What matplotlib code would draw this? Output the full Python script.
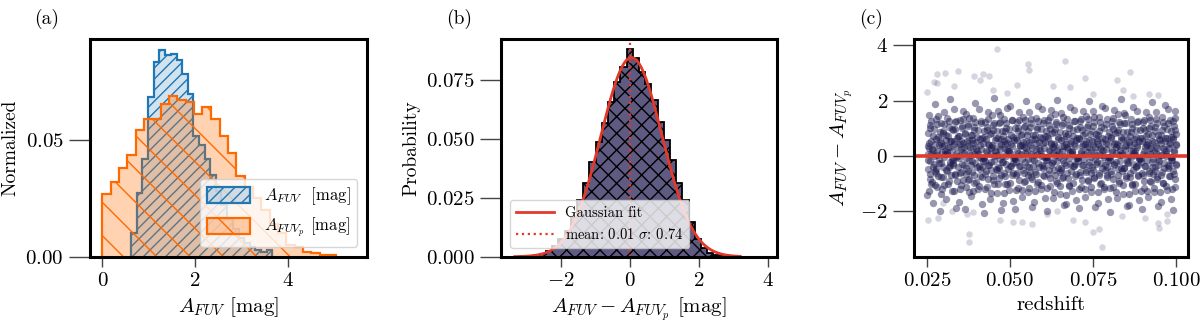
import numpy as np
import matplotlib
matplotlib.use("Agg")
import matplotlib.pyplot as plt

# Computer Modern look
plt.rcParams["font.family"] = "serif"
plt.rcParams["font.serif"] = ["cmr10"]
plt.rcParams["mathtext.fontset"] = "cm"
plt.rcParams["axes.formatter.use_mathtext"] = True
plt.rcParams["axes.unicode_minus"] = True

# ---- panel (a): normalized histograms of A_FUV and A_FUVp ----
afuv_edges = [0.62, 0.74, 0.86, 0.99, 1.11, 1.23, 1.35, 1.47, 1.60, 1.72, 1.84, 1.96, 2.08,
              2.21, 2.33, 2.45, 2.57, 2.69, 2.82, 2.94, 3.06, 3.18, 3.30, 3.43, 3.55, 3.67]
afuv_frac = [0.0100, 0.0275, 0.0420, 0.0686, 0.0834, 0.0889, 0.0866, 0.0872, 0.0845, 0.0785,
             0.0700, 0.052, 0.048, 0.042, 0.035, 0.028, 0.022, 0.016, 0.012, 0.008,
             0.006, 0.004, 0.003, 0.002, 0.003]

afuvp_edges = [0.00, 0.18, 0.36, 0.54, 0.72, 0.90, 1.08, 1.26, 1.44, 1.62, 1.80, 1.98, 2.16, 2.35,
               2.53, 2.71, 2.89, 3.07, 3.25, 3.43, 3.61, 3.79, 3.97, 4.15, 4.33, 4.51, 4.69, 4.87, 5.05]
afuvp_frac = [0.0269, 0.0319, 0.0380, 0.0436, 0.0546, 0.0593, 0.0593, 0.0657, 0.0689, 0.0671,
              0.0662, 0.0614, 0.0643, 0.0593, 0.0517, 0.0445, 0.0345, 0.0300, 0.0250, 0.0200,
              0.0140, 0.0100, 0.0050, 0.0040, 0.0022, 0.0016, 0.0008, 0.0007]

# ---- panel (b): residual histogram + gaussian ----
resid_edges = [-3.34, -3.16, -2.98, -2.80, -2.62, -2.44, -2.26, -2.08, -1.90, -1.72, -1.54, -1.36,
               -1.18, -1.00, -0.82, -0.64, -0.46, -0.28, -0.10, 0.08, 0.26, 0.44, 0.62, 0.80,
               0.98, 1.16, 1.34, 1.52, 1.70, 1.88, 2.06, 2.24, 2.42, 2.60, 2.78, 2.96, 3.14]
resid_prob = [0.0001, 0.0002, 0.0003, 0.0006, 0.0012, 0.0025, 0.0045, 0.0075, 0.0110, 0.0170,
              0.0240, 0.0310, 0.0400, 0.0486, 0.0564, 0.0656, 0.0740, 0.0804, 0.0877,
              0.0839, 0.0783, 0.0733, 0.0663, 0.0571, 0.0494, 0.0409, 0.0310, 0.0240, 0.0145,
              0.0073, 0.0038, 0.0016, 0.0009, 0.0006, 0.0004, 0.0002]
fit_amp = 0.0843
fit_center = 0.04
fit_width = 0.89
fit_range = (-3.35, 3.2)
fit_mean = 0.01
fit_sigma = 0.74

# ---- panel (c): residual vs redshift ----
cloud_pts = [
    (0.0252,-1.41),(0.0259,-0.83),(0.0255,-0.47),(0.0261,-0.18),(0.0253,0.07),(0.0258,0.29),(0.0262,0.55),(0.0254,0.81),(0.0260,1.12),(0.0257,1.46),(0.0263,-1.02),
    (0.0270,-1.73),(0.0278,-0.64),(0.0273,-0.29),(0.0281,0.02),(0.0268,0.21),(0.0276,0.44),(0.0283,0.69),(0.0271,0.98),(0.0279,1.33),(0.0274,1.86),(0.0282,-1.12),
    (0.0289,-2.02),(0.0297,-1.21),(0.0292,-0.76),(0.0300,-0.41),(0.0287,-0.11),(0.0295,0.14),(0.0302,0.38),(0.0290,0.61),(0.0298,0.88),(0.0293,1.19),(0.0301,1.57),
    (0.0308,-1.55),(0.0316,-0.92),(0.0311,-0.55),(0.0319,-0.24),(0.0306,0.05),(0.0314,0.31),(0.0321,0.52),(0.0309,0.77),(0.0317,1.04),(0.0312,1.38),(0.0320,2.07),
    (0.0327,-1.28),(0.0335,-0.69),(0.0330,-0.35),(0.0338,-0.06),(0.0325,0.18),(0.0333,0.42),(0.0340,0.63),(0.0328,0.92),(0.0336,1.24),(0.0331,1.71),(0.0339,-1.88),
    (0.0346,-1.66),(0.0354,-1.07),(0.0349,-0.61),(0.0357,-0.31),(0.0344,-0.02),(0.0352,0.24),(0.0359,0.47),(0.0347,0.71),(0.0355,0.99),(0.0350,1.29),(0.0358,1.63),
    (0.0365,-1.94),(0.0373,-0.87),(0.0368,-0.44),(0.0376,-0.15),(0.0363,0.11),(0.0371,0.35),(0.0378,0.58),(0.0366,0.84),(0.0374,1.16),(0.0369,1.52),(0.0377,-1.31),
    (0.0384,-1.47),(0.0392,-0.98),(0.0387,-0.58),(0.0395,-0.27),(0.0382,0.03),(0.0390,0.27),(0.0397,0.49),(0.0385,0.74),(0.0393,1.03),(0.0388,1.36),(0.0396,1.92),
    (0.0403,-1.19),(0.0411,-0.73),(0.0406,-0.38),(0.0414,-0.09),(0.0401,0.16),(0.0409,0.39),(0.0416,0.66),(0.0404,0.95),(0.0412,1.27),(0.0407,1.68),(0.0415,-1.76),
    (0.0422,-2.08),(0.0430,-1.14),(0.0425,-0.67),(0.0433,-0.34),(0.0420,-0.05),(0.0428,0.19),(0.0435,0.43),(0.0423,0.67),(0.0431,0.93),(0.0426,1.22),(0.0434,1.59),
    (0.0441,-1.58),(0.0449,-0.89),(0.0444,-0.51),(0.0452,-0.20),(0.0439,0.08),(0.0447,0.33),(0.0454,0.57),(0.0442,0.83),(0.0450,1.13),(0.0445,1.49),(0.0453,2.11),
    (0.0460,-1.35),(0.0468,-0.79),(0.0463,-0.42),(0.0471,-0.13),(0.0458,0.13),(0.0466,0.37),(0.0473,0.61),(0.0461,0.89),(0.0469,1.21),(0.0464,1.62),(0.0472,-1.97),
    (0.0479,-1.71),(0.0487,-1.03),(0.0482,-0.63),(0.0490,-0.29),(0.0477,0.00),(0.0485,0.25),(0.0492,0.48),(0.0480,0.72),(0.0488,1.01),(0.0483,1.33),(0.0491,1.74),
    (0.0498,-1.24),(0.0506,-0.71),(0.0501,-0.36),(0.0509,-0.07),(0.0496,0.19),(0.0504,0.44),(0.0511,0.68),(0.0499,0.96),(0.0507,1.29),(0.0502,1.81),(0.0510,-1.63),
    (0.0517,-1.92),(0.0525,-1.17),(0.0520,-0.70),(0.0528,-0.37),(0.0515,-0.08),(0.0523,0.16),(0.0530,0.40),(0.0518,0.64),(0.0526,0.91),(0.0521,1.24),(0.0529,1.58),
    (0.0536,-1.50),(0.0544,-0.94),(0.0539,-0.53),(0.0547,-0.22),(0.0534,0.06),(0.0542,0.30),(0.0549,0.54),(0.0537,0.79),(0.0545,1.07),(0.0540,1.41),(0.0548,1.97),
    (0.0555,-1.30),(0.0563,-0.76),(0.0558,-0.40),(0.0566,-0.11),(0.0553,0.14),(0.0561,0.38),(0.0568,0.62),(0.0556,0.90),(0.0564,1.20),(0.0559,1.60),(0.0567,-1.84),
    (0.0574,-1.68),(0.0582,-1.01),(0.0577,-0.60),(0.0585,-0.28),(0.0572,0.01),(0.0580,0.26),(0.0587,0.50),(0.0575,0.75),(0.0583,1.05),(0.0578,1.37),(0.0586,1.79),
    (0.0593,-1.22),(0.0601,-0.68),(0.0596,-0.33),(0.0604,-0.04),(0.0591,0.20),(0.0599,0.45),(0.0606,0.70),(0.0594,0.98),(0.0602,1.31),(0.0597,1.70),(0.0605,-1.53),
    (0.0612,-2.00),(0.0620,-1.10),(0.0615,-0.65),(0.0623,-0.32),(0.0610,-0.03),(0.0618,0.22),(0.0625,0.46),(0.0613,0.70),(0.0621,0.97),(0.0616,1.28),(0.0624,1.66),
    (0.0631,-1.52),(0.0639,-0.90),(0.0634,-0.50),(0.0642,-0.19),(0.0629,0.09),(0.0637,0.34),(0.0644,0.59),(0.0632,0.86),(0.0640,1.15),(0.0635,1.51),(0.0643,2.03),
    (0.0650,-1.37),(0.0658,-0.81),(0.0653,-0.43),(0.0661,-0.14),(0.0648,0.12),(0.0656,0.36),(0.0663,0.60),(0.0651,0.87),(0.0659,1.18),(0.0654,1.56),(0.0662,-1.79),
    (0.0669,-1.75),(0.0677,-1.05),(0.0672,-0.62),(0.0680,-0.30),(0.0667,-0.01),(0.0675,0.23),(0.0682,0.47),(0.0670,0.73),(0.0678,1.02),(0.0673,1.35),(0.0681,1.77),
    (0.0688,-1.26),(0.0696,-0.74),(0.0691,-0.37),(0.0699,-0.08),(0.0686,0.17),(0.0694,0.41),(0.0701,0.65),(0.0689,0.93),(0.0697,1.26),(0.0692,1.65),(0.0700,-1.60),
    (0.0707,-1.90),(0.0715,-1.15),(0.0710,-0.68),(0.0718,-0.35),(0.0705,-0.06),(0.0713,0.18),(0.0720,0.42),(0.0708,0.66),(0.0716,0.94),(0.0711,1.25),(0.0719,1.61),
    (0.0726,-1.48),(0.0734,-0.93),(0.0729,-0.52),(0.0737,-0.21),(0.0724,0.07),(0.0732,0.32),(0.0739,0.56),(0.0727,0.81),(0.0735,1.10),(0.0730,1.44),(0.0738,1.99),
    (0.0745,-1.33),(0.0753,-0.78),(0.0748,-0.41),(0.0756,-0.12),(0.0743,0.15),(0.0751,0.39),(0.0758,0.63),(0.0746,0.91),(0.0754,1.22),(0.0749,1.63),(0.0757,-1.86),
    (0.0764,-1.70),(0.0772,-1.02),(0.0767,-0.61),(0.0775,-0.27),(0.0762,0.02),(0.0770,0.27),(0.0777,0.51),(0.0765,0.76),(0.0773,1.06),(0.0768,1.39),(0.0776,1.82),
    (0.0783,-1.21),(0.0791,-0.70),(0.0786,-0.34),(0.0794,-0.05),(0.0781,0.21),(0.0789,0.46),(0.0796,0.71),(0.0784,0.99),(0.0792,1.32),(0.0787,1.72),(0.0795,-1.56),
    (0.0802,-2.04),(0.0810,-1.12),(0.0805,-0.66),(0.0813,-0.33),(0.0800,-0.04),(0.0808,0.21),(0.0815,0.45),(0.0803,0.69),(0.0811,0.96),(0.0806,1.27),(0.0814,1.67),
    (0.0821,-1.54),(0.0829,-0.91),(0.0824,-0.49),(0.0832,-0.18),(0.0819,0.10),(0.0827,0.35),(0.0834,0.58),(0.0822,0.85),(0.0830,1.14),(0.0825,1.50),(0.0833,2.06),
    (0.0840,-1.38),(0.0848,-0.82),(0.0843,-0.44),(0.0851,-0.15),(0.0838,0.11),(0.0846,0.35),(0.0853,0.59),(0.0841,0.86),(0.0849,1.17),(0.0844,1.55),(0.0852,-1.81),
    (0.0859,-1.77),(0.0867,-1.06),(0.0862,-0.63),(0.0870,-0.31),(0.0857,-0.02),(0.0865,0.22),(0.0872,0.46),(0.0860,0.72),(0.0868,1.00),(0.0863,1.34),(0.0871,1.76),
    (0.0878,-1.27),(0.0886,-0.75),(0.0881,-0.38),(0.0889,-0.09),(0.0876,0.16),(0.0884,0.40),(0.0891,0.64),(0.0879,0.92),(0.0887,1.25),(0.0882,1.64),(0.0890,-1.62),
    (0.0897,-1.93),(0.0905,-1.16),(0.0900,-0.69),(0.0908,-0.36),(0.0895,-0.07),(0.0903,0.17),(0.0910,0.41),(0.0898,0.65),(0.0906,0.93),(0.0901,1.23),(0.0909,1.59),
    (0.0916,-1.49),(0.0924,-0.95),(0.0919,-0.54),(0.0927,-0.23),(0.0914,0.05),(0.0922,0.29),(0.0929,0.53),(0.0917,0.78),(0.0925,1.08),(0.0920,1.42),(0.0928,1.95),
    (0.0935,-1.32),(0.0943,-0.77),(0.0938,-0.39),(0.0946,-0.10),(0.0933,0.13),(0.0941,0.37),(0.0948,0.61),(0.0936,0.88),(0.0944,1.19),(0.0939,1.58),(0.0947,-1.83),
    (0.0954,-1.69),(0.0962,-1.00),(0.0957,-0.59),(0.0965,-0.26),(0.0952,0.03),(0.0960,0.28),(0.0967,0.52),(0.0955,0.77),(0.0963,1.07),(0.0958,1.40),(0.0966,1.84),
    (0.0973,-1.23),(0.0981,-0.72),(0.0976,-0.35),(0.0984,-0.06),(0.0971,0.19),(0.0979,0.43),(0.0986,0.68),(0.0974,0.97),(0.0982,1.30),(0.0977,1.69),(0.0985,-1.58),
    (0.0990,-1.95),(0.0997,-1.13),(0.0993,-0.66),(0.0999,-0.32),(0.0988,-0.03),(0.0995,0.20),(0.1000,0.44),(0.0991,0.68),(0.0998,0.95),(0.0992,1.26),(0.0996,1.64),
]
core_pts = [
    (0.0256,-1.28),(0.0265,-0.95),(0.0260,-0.66),(0.0269,-0.41),(0.0254,-0.17),(0.0263,0.06),(0.0267,0.25),(0.0258,0.47),(0.0270,0.72),(0.0261,0.99),(0.0264,1.27),(0.0255,0.36),
    (0.0275,-1.07),(0.0284,-0.75),(0.0279,-0.47),(0.0288,-0.25),(0.0273,0.00),(0.0282,0.19),(0.0286,0.38),(0.0277,0.60),(0.0289,0.85),(0.0280,1.15),(0.0283,1.45),(0.0274,-0.57),
    (0.0294,-1.39),(0.0303,-1.06),(0.0298,-0.78),(0.0307,-0.52),(0.0292,-0.28),(0.0301,-0.05),(0.0305,0.16),(0.0296,0.36),(0.0308,0.57),(0.0299,0.84),(0.0302,1.14),(0.0293,0.48),
    (0.0313,-1.02),(0.0322,-0.68),(0.0317,-0.40),(0.0326,-0.10),(0.0311,0.13),(0.0320,0.33),(0.0324,0.54),(0.0315,0.70),(0.0327,0.96),(0.0318,1.25),(0.0321,-0.32),(0.0312,0.05),
    (0.0331,-1.28),(0.0340,-0.93),(0.0335,-0.65),(0.0344,-0.40),(0.0329,-0.15),(0.0338,0.05),(0.0342,0.31),(0.0333,0.53),(0.0345,0.71),(0.0336,0.98),(0.0339,1.27),(0.0330,-0.26),
    (0.0350,-1.20),(0.0359,-0.87),(0.0354,-0.58),(0.0363,-0.33),(0.0348,-0.09),(0.0357,0.14),(0.0361,0.33),(0.0352,0.55),(0.0364,0.80),(0.0355,1.07),(0.0358,1.35),(0.0349,0.44),
    (0.0369,-1.15),(0.0378,-0.83),(0.0373,-0.55),(0.0382,-0.33),(0.0367,-0.08),(0.0376,0.11),(0.0380,0.30),(0.0371,0.52),(0.0383,0.77),(0.0374,1.07),(0.0377,1.37),(0.0368,-0.65),
    (0.0388,-1.29),(0.0397,-0.96),(0.0392,-0.68),(0.0401,-0.42),(0.0386,-0.18),(0.0395,0.05),(0.0399,0.26),(0.0390,0.46),(0.0402,0.67),(0.0393,0.94),(0.0396,1.24),(0.0387,0.58),
    (0.0407,-1.10),(0.0416,-0.76),(0.0411,-0.48),(0.0420,-0.18),(0.0405,0.05),(0.0414,0.25),(0.0418,0.46),(0.0409,0.62),(0.0421,0.88),(0.0412,1.17),(0.0415,-0.40),(0.0406,-0.03),
    (0.0425,-1.20),(0.0434,-0.85),(0.0429,-0.57),(0.0438,-0.32),(0.0423,-0.07),(0.0432,0.13),(0.0436,0.39),(0.0427,0.61),(0.0439,0.79),(0.0430,1.06),(0.0433,1.35),(0.0424,-0.18),
    (0.0444,-1.35),(0.0453,-1.02),(0.0448,-0.73),(0.0457,-0.48),(0.0442,-0.24),(0.0451,-0.01),(0.0455,0.18),(0.0446,0.40),(0.0458,0.65),(0.0449,0.92),(0.0452,1.20),(0.0443,0.29),
    (0.0463,-1.03),(0.0472,-0.71),(0.0467,-0.43),(0.0476,-0.21),(0.0461,0.04),(0.0470,0.23),(0.0474,0.42),(0.0465,0.64),(0.0477,0.89),(0.0468,1.19),(0.0471,1.49),(0.0462,-0.53),
    (0.0482,-1.34),(0.0491,-1.01),(0.0486,-0.73),(0.0495,-0.47),(0.0480,-0.23),(0.0489,0.00),(0.0493,0.21),(0.0484,0.41),(0.0496,0.62),(0.0487,0.89),(0.0490,1.19),(0.0481,0.53),
    (0.0501,-0.98),(0.0510,-0.64),(0.0505,-0.36),(0.0514,-0.06),(0.0499,0.17),(0.0508,0.37),(0.0512,0.58),(0.0503,0.74),(0.0515,1.00),(0.0506,1.29),(0.0509,-0.28),(0.0500,0.09),
    (0.0519,-1.24),(0.0528,-0.89),(0.0523,-0.61),(0.0532,-0.36),(0.0517,-0.11),(0.0526,0.09),(0.0530,0.35),(0.0521,0.57),(0.0533,0.75),(0.0524,1.02),(0.0527,1.31),(0.0518,-0.22),
    (0.0538,-1.24),(0.0547,-0.91),(0.0542,-0.62),(0.0551,-0.37),(0.0536,-0.13),(0.0545,0.10),(0.0549,0.29),(0.0540,0.51),(0.0552,0.76),(0.0543,1.03),(0.0546,1.31),(0.0537,0.40),
    (0.0557,-1.18),(0.0566,-0.86),(0.0561,-0.58),(0.0570,-0.36),(0.0555,-0.11),(0.0564,0.08),(0.0568,0.27),(0.0559,0.49),(0.0571,0.74),(0.0562,1.04),(0.0565,1.34),(0.0556,-0.68),
    (0.0576,-1.27),(0.0585,-0.94),(0.0580,-0.66),(0.0589,-0.40),(0.0574,-0.16),(0.0583,0.07),(0.0587,0.28),(0.0578,0.48),(0.0590,0.69),(0.0581,0.96),(0.0584,1.26),(0.0575,0.60),
    (0.0595,-1.07),(0.0604,-0.73),(0.0599,-0.45),(0.0608,-0.15),(0.0593,0.08),(0.0602,0.28),(0.0606,0.49),(0.0597,0.65),(0.0609,0.91),(0.0600,1.20),(0.0603,-0.37),(0.0594,0.00),
    (0.0613,-1.16),(0.0622,-0.81),(0.0617,-0.53),(0.0626,-0.28),(0.0611,-0.03),(0.0620,0.17),(0.0624,0.43),(0.0615,0.65),(0.0627,0.83),(0.0618,1.10),(0.0621,1.39),(0.0612,-0.14),
    (0.0632,-1.31),(0.0641,-0.98),(0.0636,-0.69),(0.0645,-0.44),(0.0630,-0.20),(0.0639,0.03),(0.0643,0.22),(0.0634,0.44),(0.0646,0.69),(0.0637,0.96),(0.0640,1.24),(0.0631,0.33),
    (0.0651,-1.10),(0.0660,-0.78),(0.0655,-0.50),(0.0664,-0.28),(0.0649,-0.03),(0.0658,0.16),(0.0662,0.35),(0.0653,0.57),(0.0665,0.82),(0.0656,1.12),(0.0659,1.42),(0.0650,-0.60),
    (0.0670,-1.43),(0.0679,-1.10),(0.0674,-0.82),(0.0683,-0.56),(0.0668,-0.32),(0.0677,-0.09),(0.0681,0.12),(0.0672,0.32),(0.0684,0.53),(0.0675,0.80),(0.0678,1.10),(0.0669,0.44),
    (0.0689,-1.00),(0.0698,-0.66),(0.0693,-0.38),(0.0702,-0.08),(0.0687,0.15),(0.0696,0.35),(0.0700,0.56),(0.0691,0.72),(0.0703,0.98),(0.0694,1.27),(0.0697,-0.30),(0.0688,0.07),
    (0.0707,-1.22),(0.0716,-0.87),(0.0711,-0.59),(0.0720,-0.34),(0.0705,-0.09),(0.0714,0.11),(0.0718,0.37),(0.0709,0.59),(0.0721,0.77),(0.0712,1.04),(0.0715,1.33),(0.0706,-0.20),
    (0.0726,-1.22),(0.0735,-0.89),(0.0730,-0.60),(0.0739,-0.35),(0.0724,-0.11),(0.0733,0.12),(0.0737,0.31),(0.0728,0.53),(0.0740,0.78),(0.0731,1.05),(0.0734,1.33),(0.0725,0.42),
    (0.0745,-1.13),(0.0754,-0.81),(0.0749,-0.53),(0.0758,-0.31),(0.0743,-0.06),(0.0752,0.13),(0.0756,0.32),(0.0747,0.54),(0.0759,0.79),(0.0750,1.09),(0.0753,1.39),(0.0744,-0.63),
    (0.0764,-1.32),(0.0773,-0.99),(0.0768,-0.71),(0.0777,-0.45),(0.0762,-0.21),(0.0771,0.02),(0.0775,0.23),(0.0766,0.43),(0.0778,0.64),(0.0769,0.91),(0.0772,1.21),(0.0763,0.55),
    (0.0783,-1.12),(0.0792,-0.78),(0.0787,-0.50),(0.0796,-0.20),(0.0781,0.03),(0.0790,0.23),(0.0794,0.44),(0.0785,0.60),(0.0797,0.86),(0.0788,1.15),(0.0791,-0.42),(0.0782,-0.05),
    (0.0801,-1.18),(0.0810,-0.83),(0.0805,-0.55),(0.0814,-0.30),(0.0799,-0.05),(0.0808,0.15),(0.0812,0.41),(0.0803,0.63),(0.0815,0.81),(0.0806,1.08),(0.0809,1.37),(0.0800,-0.16),
    (0.0820,-1.33),(0.0829,-1.00),(0.0824,-0.71),(0.0833,-0.46),(0.0818,-0.22),(0.0827,0.01),(0.0831,0.20),(0.0822,0.42),(0.0834,0.67),(0.0825,0.94),(0.0828,1.22),(0.0819,0.31),
    (0.0839,-1.05),(0.0848,-0.73),(0.0843,-0.45),(0.0852,-0.23),(0.0837,0.02),(0.0846,0.21),(0.0850,0.40),(0.0841,0.62),(0.0853,0.87),(0.0844,1.17),(0.0847,1.47),(0.0838,-0.55),
    (0.0858,-1.37),(0.0867,-1.04),(0.0862,-0.76),(0.0871,-0.50),(0.0856,-0.26),(0.0865,-0.03),(0.0869,0.18),(0.0860,0.38),(0.0872,0.59),(0.0863,0.86),(0.0866,1.16),(0.0857,0.50),
    (0.0877,-1.04),(0.0886,-0.70),(0.0881,-0.42),(0.0890,-0.12),(0.0875,0.11),(0.0884,0.31),(0.0888,0.52),(0.0879,0.68),(0.0891,0.94),(0.0882,1.23),(0.0885,-0.34),(0.0876,0.03),
    (0.0895,-1.26),(0.0904,-0.91),(0.0899,-0.63),(0.0908,-0.38),(0.0893,-0.13),(0.0902,0.07),(0.0906,0.33),(0.0897,0.55),(0.0909,0.73),(0.0900,1.00),(0.0903,1.29),(0.0894,-0.24),
    (0.0914,-1.26),(0.0923,-0.93),(0.0918,-0.64),(0.0927,-0.39),(0.0912,-0.15),(0.0921,0.08),(0.0925,0.27),(0.0916,0.49),(0.0928,0.74),(0.0919,1.01),(0.0922,1.29),(0.0913,0.38),
    (0.0933,-1.17),(0.0942,-0.85),(0.0937,-0.57),(0.0946,-0.35),(0.0931,-0.10),(0.0940,0.09),(0.0944,0.28),(0.0935,0.50),(0.0947,0.75),(0.0938,1.05),(0.0941,1.35),(0.0932,-0.67),
    (0.0952,-1.30),(0.0961,-0.97),(0.0956,-0.69),(0.0965,-0.43),(0.0950,-0.19),(0.0959,0.04),(0.0963,0.25),(0.0954,0.45),(0.0966,0.66),(0.0957,0.93),(0.0960,1.23),(0.0951,0.57),
    (0.0971,-1.08),(0.0980,-0.74),(0.0975,-0.46),(0.0984,-0.16),(0.0969,0.07),(0.0978,0.27),(0.0982,0.48),(0.0973,0.64),(0.0985,0.90),(0.0976,1.19),(0.0979,-0.38),(0.0970,-0.01),
    (0.0988,-1.19),(0.0997,-0.84),(0.0992,-0.56),(0.1000,-0.31),(0.0986,-0.06),(0.0995,0.14),(0.0999,0.40),(0.0990,0.62),(0.1000,0.80),(0.0993,1.07),(0.0996,1.36),(0.0987,-0.17),
]
outlier_pts = [
    (0.0461,3.87),(0.0666,3.44),(0.0554,3.32),(0.0559,3.10),(0.0345,3.08),(0.0305,3.00),(0.0282,2.96),
    (0.0862,3.05),(0.0392,2.88),(0.0418,2.95),(0.0726,2.83),(0.0822,2.76),(0.0410,2.75),(0.0437,2.90),
    (0.0272,2.68),(0.0280,2.62),(0.0331,2.53),(0.0449,2.37),(0.0918,2.24),(0.0947,2.22),(0.0629,2.52),
    (0.0681,2.48),(0.0751,2.24),(0.0841,2.37),(0.0869,2.16),(0.0250,2.31),(0.0522,2.57),(0.0491,2.26),
    (0.0776,-3.32),(0.0378,-3.11),(0.0378,-2.84),(0.0750,-2.78),(0.0767,-2.66),(0.0950,-2.60),(0.0945,-2.45),
    (0.0253,-2.33),(0.0285,-2.24),(0.0469,-2.33),(0.0511,-2.40),(0.0536,-2.40),(0.0566,-2.47),(0.0691,-2.33),
    (0.0726,-2.40),(0.0972,-2.36),(0.0370,-2.12),(0.0388,-2.05),(0.0611,-2.12),(0.0641,-2.02),(0.0972,-2.12),
    (0.0907,-2.24),(0.0837,-2.17),(0.0298,-1.72),(0.0325,-2.02),
]

blue = "#1f77b4"
orange = "#ff6a00"
red = "#e2392b"
navy = "#1b1a4f"

fig = plt.figure(figsize=(12, 3.25), dpi=100)
ax_a = fig.add_axes([0.075, 0.21, 0.231, 0.669])
ax_b = fig.add_axes([0.4175, 0.21, 0.2298, 0.669])
ax_c = fig.add_axes([0.762, 0.21, 0.2283, 0.669])

# (a)
ax_a.stairs(afuv_frac, afuv_edges, fill=True, hatch="///", linewidth=1.6,
            facecolor=matplotlib.colors.to_rgba(blue, 0.2), edgecolor=blue,
            label=r"$A_{FUV}$  [mag]")
ax_a.stairs(afuvp_frac, afuvp_edges, fill=True, hatch="\\", linewidth=1.6,
            facecolor=matplotlib.colors.to_rgba(orange, 0.3), edgecolor=orange,
            label=r"$A_{FUV_p}$ [mag]")
ax_a.set_xlim(-0.27, 5.72)
ax_a.set_ylim(0, 0.0933)
ax_a.set_xticks([0, 2, 4])
ax_a.set_yticks([0, 0.05])
ax_a.set_xlabel(r"$A_{FUV}$ [mag]", fontsize=15)
ax_a.set_ylabel("Normalized", fontsize=14)
ax_a.legend(loc="lower right", fontsize=12, handlelength=2.6, handleheight=1.1,
            borderaxespad=0.6)

# (b)
ax_b.stairs(resid_prob, resid_edges, fill=True, hatch="xx", linewidth=1.3,
            facecolor="#5e5a82", edgecolor="black")
gx = np.linspace(fit_range[0], fit_range[1], 300)
ax_b.plot(gx, fit_amp * np.exp(-0.5 * ((gx - fit_center) / fit_width) ** 2),
          color=red, lw=2, label="Gaussian fit")
ax_b.axvline(fit_mean, color=red, ls=":", lw=1.6,
             label=r"mean: %.2f $\sigma$: %.2f" % (fit_mean, fit_sigma))
ax_b.set_xlim(-3.75, 4.26)
ax_b.set_ylim(0, 0.092)
ax_b.set_xticks([-2, 0, 2, 4])
ax_b.set_yticks([0, 0.025, 0.05, 0.075])
ax_b.set_xlabel(r"$A_{FUV} - A_{FUV_p}$ [mag]", fontsize=15)
ax_b.set_ylabel("Probability", fontsize=14)
ax_b.legend(loc="lower left", fontsize=10.5, handlelength=2.6, borderaxespad=0.6)

# (c)
cloud = np.array(cloud_pts)
core = np.array(core_pts)
outl = np.array(outlier_pts)
ax_c.scatter(outl[:, 0], outl[:, 1], s=22, color=navy, alpha=0.18, linewidths=0)
ax_c.scatter(cloud[:, 0], cloud[:, 1], s=28, color=navy, alpha=0.45, linewidths=0)
ax_c.scatter(core[:, 0], core[:, 1], s=28, color=navy, alpha=0.5, linewidths=0)
ax_c.axhline(0, color=red, lw=2.6)
ax_c.set_xlim(0.0213, 0.1037)
ax_c.set_ylim(-3.66, 4.22)
ax_c.set_xticks([0.025, 0.05, 0.075, 0.1])
ax_c.set_yticks([-2, 0, 2, 4])
ax_c.set_xlabel("redshift", fontsize=15)
ax_c.set_ylabel(r"$A_{FUV} - A_{FUV_p}$", fontsize=15)

for ax, tag in zip([ax_a, ax_b, ax_c], ["(a)", "(b)", "(c)"]):
    for sp in ax.spines.values():
        sp.set_linewidth(2.2)
    ax.tick_params(axis="y", length=15, width=1, color="#444444", labelsize=15, pad=4)
    ax.tick_params(axis="x", length=7, width=1, color="#444444", labelsize=15, pad=4)
    ax.text(-0.2, 1.095, tag, transform=ax.transAxes, fontsize=14, va="center", ha="left")

fig.savefig("out.png", dpi=100)
